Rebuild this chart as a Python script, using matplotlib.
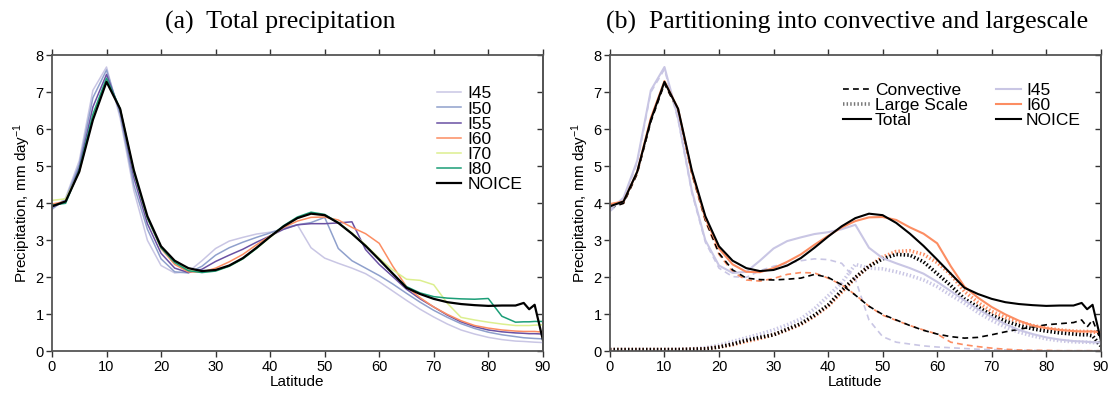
import numpy as np
import matplotlib
matplotlib.use("Agg")
import matplotlib.pyplot as plt

plt.rcParams["font.family"] = ["Liberation Sans", "DejaVu Sans"]
plt.rcParams["mathtext.fontset"] = "custom"
plt.rcParams["mathtext.rm"] = "Liberation Sans"
plt.rcParams["mathtext.it"] = "Liberation Sans"

# -------------------------
# DATA
# -------------------------
lat = [0, 2.5, 5, 7.5, 10, 12.5, 15, 17.5, 20, 22.5, 25, 27.5, 30, 32.5, 35, 37.5,
       40, 42.5, 45, 47.5, 50, 52.5, 55, 57.5, 60, 62.5, 65, 67.5, 70, 72.5, 75,
       77.5, 80, 82.5, 85, 86.5, 87.5, 88.5, 90]

i45 = [3.83, 4.15, 5.15, 7.05, 7.68, 6.3, 4.35, 3.0, 2.32, 2.12, 2.15, 2.45, 2.78,
       2.98, 3.08, 3.17, 3.22, 3.3, 3.42, 2.8, 2.52, 2.38, 2.25, 2.1, 1.88, 1.63,
       1.38, 1.14, 0.93, 0.74, 0.58, 0.47, 0.38, 0.32, 0.28, 0.27, 0.26, 0.25, 0.24]
i50 = [3.85, 4.1, 5.05, 6.85, 7.6, 6.4, 4.5, 3.3, 2.5, 2.15, 2.12, 2.3, 2.6, 2.8,
       2.95, 3.08, 3.2, 3.33, 3.42, 3.48, 3.62, 2.78, 2.45, 2.25, 2.05, 1.82, 1.57,
       1.33, 1.11, 0.92, 0.75, 0.62, 0.52, 0.45, 0.4, 0.37, 0.36, 0.35, 0.34]
i55 = [3.9, 4.05, 4.95, 6.6, 7.48, 6.5, 4.7, 3.45, 2.65, 2.25, 2.13, 2.22, 2.43,
       2.6, 2.76, 2.95, 3.12, 3.3, 3.42, 3.45, 3.45, 3.47, 3.5, 2.75, 2.35, 2.02,
       1.68, 1.42, 1.2, 0.98, 0.8, 0.67, 0.58, 0.53, 0.5, 0.49, 0.48, 0.48, 0.47]
i60 = [3.98, 4.05, 4.85, 6.3, 7.3, 6.55, 4.85, 3.6, 2.78, 2.35, 2.15, 2.14, 2.25,
       2.42, 2.62, 2.88, 3.12, 3.35, 3.52, 3.62, 3.63, 3.55, 3.35, 3.18, 2.92, 2.3,
       1.75, 1.45, 1.2, 1.0, 0.83, 0.7, 0.63, 0.58, 0.55, 0.54, 0.54, 0.54, 0.52]
i70 = [4.08, 4.12, 4.85, 6.3, 7.3, 6.55, 4.88, 3.62, 2.82, 2.42, 2.2, 2.14, 2.18,
       2.3, 2.5, 2.78, 3.08, 3.38, 3.6, 3.72, 3.68, 3.48, 3.2, 2.88, 2.52, 2.2,
       1.95, 1.92, 1.8, 1.3, 0.92, 0.85, 0.79, 0.74, 0.7, 0.7, 0.7, 0.71, 0.72]
i80 = [3.95, 4.0, 4.9, 6.4, 7.38, 6.55, 4.85, 3.6, 2.8, 2.4, 2.18, 2.13, 2.17, 2.3,
       2.5, 2.78, 3.1, 3.4, 3.63, 3.76, 3.7, 3.48, 3.18, 2.85, 2.48, 2.1, 1.75,
       1.58, 1.48, 1.44, 1.42, 1.41, 1.43, 0.95, 0.79, 0.8, 0.8, 0.81, 0.81]
noice = [3.92, 4.05, 4.85, 6.25, 7.28, 6.55, 4.9, 3.65, 2.84, 2.45, 2.25, 2.17, 2.2,
         2.32, 2.52, 2.8, 3.1, 3.38, 3.6, 3.72, 3.68, 3.47, 3.18, 2.85, 2.48, 2.1,
         1.72, 1.55, 1.42, 1.33, 1.28, 1.25, 1.23, 1.24, 1.24, 1.31, 1.14, 1.26, 0.32]

# convective / large scale parts, panel (b)
conv_i45 = [3.78, 4.1, 5.1, 7.0, 7.62, 6.25, 4.3, 2.95, 2.25, 2.02, 2.0, 2.18, 2.3,
            2.38, 2.45, 2.5, 2.48, 2.38, 1.95, 0.85, 0.4, 0.25, 0.2, 0.15, 0.12, 0.1,
            0.08, 0.06, 0.05, 0.04, 0.03, 0.03, 0.02, 0.02, 0.02, 0.02, 0.02, 0.02, 0.02]
ls_i45 = [0.05, 0.05, 0.05, 0.05, 0.05, 0.06, 0.07, 0.1, 0.17, 0.27, 0.37, 0.47,
          0.58, 0.72, 0.88, 1.15, 1.5, 1.85, 2.35, 2.25, 2.23, 2.15, 2.05, 1.93, 1.75,
          1.52, 1.3, 1.05, 0.84, 0.66, 0.52, 0.42, 0.34, 0.29, 0.26, 0.25, 0.25, 0.24, 0.22]
conv_i60 = [3.93, 4.0, 4.8, 6.25, 7.25, 6.5, 4.8, 3.52, 2.62, 2.15, 1.93, 1.9, 1.97,
            2.08, 2.13, 2.12, 1.98, 1.8, 1.53, 1.22, 0.98, 0.84, 0.7, 0.58, 0.47, 0.25,
            0.18, 0.13, 0.09, 0.06, 0.04, 0.03, 0.03, 0.02, 0.02, 0.02, 0.02, 0.02, 0.02]
ls_i60 = [0.05, 0.05, 0.05, 0.05, 0.05, 0.05, 0.06, 0.07, 0.12, 0.18, 0.27, 0.35,
          0.45, 0.58, 0.73, 0.95, 1.22, 1.6, 1.98, 2.3, 2.55, 2.7, 2.72, 2.62, 2.4,
          2.08, 1.62, 1.32, 1.08, 0.92, 0.8, 0.7, 0.63, 0.58, 0.55, 0.54, 0.54, 0.53, 0.5]
conv_noice = [3.87, 4.0, 4.8, 6.2, 7.23, 6.5, 4.83, 3.55, 2.65, 2.2, 1.98, 1.94,
              1.93, 1.95, 1.98, 2.08, 2.0, 1.8, 1.52, 1.22, 1.0, 0.85, 0.7, 0.57, 0.47,
              0.4, 0.36, 0.38, 0.45, 0.53, 0.6, 0.66, 0.72, 0.75, 0.78, 0.85, 0.66, 0.85, 0.3]
ls_noice = [0.05, 0.05, 0.05, 0.05, 0.05, 0.05, 0.06, 0.07, 0.12, 0.2, 0.3, 0.38,
            0.45, 0.6, 0.75, 0.98, 1.25, 1.65, 2.0, 2.3, 2.5, 2.62, 2.6, 2.42, 2.1,
            1.78, 1.42, 1.2, 0.98, 0.82, 0.7, 0.61, 0.55, 0.5, 0.47, 0.45, 0.45, 0.42, 0.15]

names = ["I45", "I50", "I55", "I60", "I70", "I80", "NOICE"]
colors = ["#c9c6e4", "#8fa0cc", "#6a51a3", "#fc8d62", "#dcef8f", "#1b9e77", "black"]

lw_dash = (0, (3.5, 2.5))
lw_dot = (0, (0.4, 0.6))


def style_axes(ax):
    ax.set_xlim(0, 90)
    ax.set_ylim(0, 8)
    ax.set_xticks(range(0, 91, 10))
    ax.set_yticks(range(0, 9))
    for s in ax.spines.values():
        s.set_color("#555555")
        s.set_linewidth(1.3)
    ax.tick_params(axis="x", direction="out", top=True, length=4, width=1,
                   color="#333333", labelsize=10.5, pad=2)
    ax.tick_params(axis="y", direction="out", length=4, width=1,
                   color="#333333", labelsize=10.5, pad=2)
    sec = ax.secondary_yaxis("right")
    sec.set_yticks(range(0, 9))
    sec.tick_params(direction="in", length=4, width=1, color="#333333",
                    labelright=False)
    sec.spines["right"].set_color("#555555")
    sec.spines["right"].set_linewidth(1.3)
    ax.set_xlabel("Latitude", fontsize=11, labelpad=1)
    ax.set_ylabel("Precipitation, mm day$^{-1}$", fontsize=11, labelpad=2)


fig = plt.figure(figsize=(11.13, 3.94), dpi=100)
ax1 = fig.add_axes([0.0467, 0.108, 0.441, 0.752])
ax2 = fig.add_axes([0.548, 0.108, 0.441, 0.752])

# -------------------------
# (a) TOTAL
# -------------------------
series = [i45, i50, i55, i60, i70, i80, noice]
for name, vals, c in zip(names, series, colors):
    ax1.plot(lat, vals, color=c, lw=1.6 if name == "NOICE" else 1.1, label=name)
style_axes(ax1)
ax1.legend(loc="upper left", bbox_to_anchor=(0.784, 0.895), frameon=False,
           fontsize=12.5, labelspacing=0.0, handlelength=1.4, handletextpad=0.35,
           borderpad=0, borderaxespad=0)

# -------------------------
# (b) PARTITIONING
# -------------------------
b_names = ["I45", "I60", "NOICE"]
b_colors = ["#c9c6e4", "#fc8d62", "black"]
b_total = [i45, i60, noice]
b_conv = [conv_i45, conv_i60, conv_noice]
b_ls = [ls_i45, ls_i60, ls_noice]
for tot, cv, ls, c in zip(b_total, b_conv, b_ls, b_colors):
    ax2.plot(lat, cv, color=c, lw=1.2, ls=lw_dash)
    ax2.plot(lat, ls, color=c, lw=2.6, ls=lw_dot)
for tot, c in zip(b_total, b_colors):
    ax2.plot(lat, tot, color=c, lw=1.5)
style_axes(ax2)

kind_h = [plt.Line2D([], [], color="black", lw=1.2, ls=lw_dash),
          plt.Line2D([], [], color="#777777", lw=2.6, ls=lw_dot),
          plt.Line2D([], [], color="black", lw=1.5)]
leg1 = ax2.legend(kind_h, ["Convective", "Large Scale", "Total"],
                  loc="upper left", bbox_to_anchor=(0.4745, 0.905), frameon=False,
                  fontsize=12.5, labelspacing=-0.03, handlelength=1.6,
                  handletextpad=0.25, borderpad=0, borderaxespad=0)
ax2.add_artist(leg1)
run_h = [plt.Line2D([], [], color=c, lw=1.5) for c in b_colors]
ax2.legend(run_h, b_names, loc="upper left", bbox_to_anchor=(0.786, 0.905),
           frameon=False, fontsize=12.5, labelspacing=-0.03, handlelength=1.45,
           handletextpad=0.3, borderpad=0, borderaxespad=0)

fig.text(0.252, 0.943, "(a)  Total precipitation", ha="center", va="center",
         fontsize=18.5, family=["Liberation Serif", "DejaVu Serif"])
fig.text(0.761, 0.943, "(b)  Partitioning into convective and largescale",
         ha="center", va="center", fontsize=18.5,
         family=["Liberation Serif", "DejaVu Serif"])

plt.savefig("out.png", dpi=100)
